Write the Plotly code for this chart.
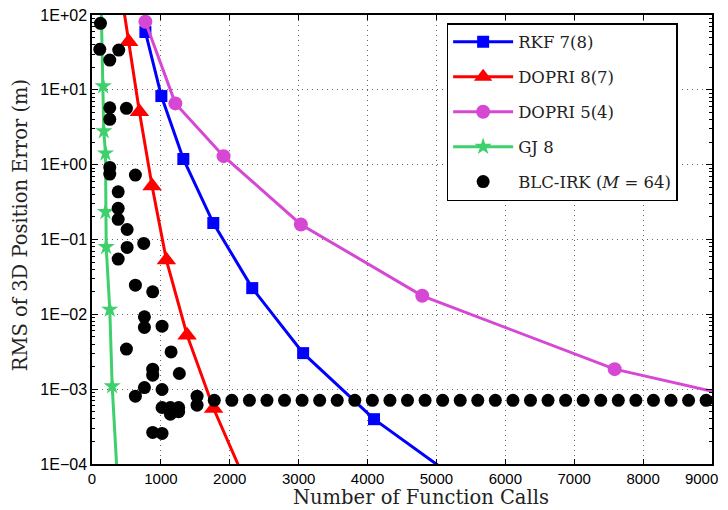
import plotly.graph_objects as go

# ---- data ----
rkf_calls = [775, 1007, 1326, 1761, 2326, 3065, 4094, 5400]
rkf_err = [59.3, 8.26, 1.19, 0.166, 0.0224, 0.00303, 3.97e-4, 5.4e-5]

dp87_calls = [420, 533, 688, 872, 1080, 1380, 1765, 2250]
dp87_err = [210, 44.0, 5.09, 0.518, 0.0531, 0.00527, 5.52e-4, 5.25e-5]

dp54_calls = [775, 1210, 1910, 3032, 4794, 7587, 12000]
dp54_err = [81.3, 6.59, 1.30, 0.159, 0.0177, 0.00185, 2.23e-4]

gj8_calls = [125, 162, 171, 196, 196, 206, 258, 293, 380]
gj8_err = [316, 11.2, 2.81, 1.42, 0.234, 0.0798, 0.0116, 0.0011, 4.1e-5]

blc_calls = [123, 113, 258, 388, 258, 258, 500, 258, 258, 630, 380, 380, 380,
             510, 510, 751, 380, 630, 881, 761, 761, 1017, 500, 1148, 881, 881,
             1268, 761, 630, 1017, 1525, 1525, 1017, 1138, 1258, 1138, 1258,
             881, 1017,
             1775, 2030, 2285, 2540, 2795, 3050, 3305, 3560, 3815, 4070, 4325,
             4580, 4835, 5090, 5345, 5600, 5855, 6110, 6365, 6620, 6875, 7130,
             7385, 7640, 7895, 8150, 8405, 8660, 8915]
blc_err = [77.5, 34.8, 25.0, 34.0, 5.76, 4.03, 5.66, 0.920, 0.749, 0.726, 0.434,
           0.261, 0.186, 0.136, 0.0783, 0.0887, 0.0547, 0.0245, 0.0200, 0.00927,
           0.00668, 0.00695, 0.00343, 0.00315, 0.00185, 0.00154, 0.00162,
           0.00105, 8.06e-4, 9.9e-4, 8.06e-4, 6.11e-4, 5.69e-4, 5.69e-4,
           5.69e-4, 4.63e-4, 5.0e-4, 2.64e-4, 2.56e-4,
           7.1e-4, 7.1e-4, 7.1e-4, 7.1e-4, 7.1e-4, 7.1e-4, 7.1e-4, 7.1e-4,
           7.1e-4, 7.1e-4, 7.1e-4, 7.1e-4, 7.1e-4, 7.1e-4, 7.1e-4, 7.1e-4,
           7.1e-4, 7.1e-4, 7.1e-4, 7.1e-4, 7.1e-4, 7.1e-4, 7.1e-4, 7.1e-4,
           7.1e-4, 7.1e-4, 7.1e-4, 7.1e-4, 7.1e-4]

x_ticks = [0, 1000, 2000, 3000, 4000, 5000, 6000, 7000, 8000, 9000]
# last label padded so it stays inside the visible page
x_ticktext = ["0", "1000", "2000", "3000", "4000", "5000", "6000", "7000",
              "8000", "9000\u00a0\u00a0\u00a0\u00a0\u00a0"]
y_ticks = [1e-4, 1e-3, 1e-2, 1e-1, 1e0, 1e1, 1e2]
y_ticktext = ["1E\u221204", "1E\u221203", "1E\u221202", "1E\u221201",
              "1E+00", "1E+01", "1E+02"]

x_title = "Number of Function Calls"
y_title = "RMS of 3D Position Error (m)"

BLUE = "#0000FF"
RED = "#FF0000"
MAGENTA = "#D648D4"
GREEN = "#3ED06C"

fig = go.Figure()
fig.add_trace(go.Scatter(x=rkf_calls, y=rkf_err, mode="lines+markers", name="RKF 7(8)",
                         legendgroup="a",
                         line=dict(color=BLUE, width=3),
                         marker=dict(symbol="square", size=12, color=BLUE)))
fig.add_trace(go.Scatter(x=dp87_calls, y=dp87_err, mode="lines+markers", name="DOPRI 8(7)",
                         legendgroup="b",
                         line=dict(color=RED, width=3),
                         marker=dict(symbol="triangle-up", size=17, color=RED)))
fig.add_trace(go.Scatter(x=dp54_calls, y=dp54_err, mode="lines+markers", name="DOPRI 5(4)",
                         legendgroup="c",
                         line=dict(color=MAGENTA, width=3),
                         marker=dict(symbol="circle", size=14, color=MAGENTA)))
fig.add_trace(go.Scatter(x=gj8_calls, y=gj8_err, mode="lines+markers", name="GJ 8",
                         legendgroup="d",
                         line=dict(color=GREEN, width=3),
                         marker=dict(symbol="star", size=13, color=GREEN)))
fig.add_trace(go.Scatter(x=blc_calls, y=blc_err, mode="markers",
                         name="BLC-IRK (<i>M</i> = 64)",
                         legendgroup="e",
                         marker=dict(symbol="circle", size=13, color="black")))

minor_vals = [m * 10 ** e for e in range(-4, 2) for m in range(2, 10)]

fig.update_xaxes(range=[0, 9000], tickmode="array", tickvals=x_ticks,
                 ticktext=x_ticktext,
                 automargin=False, ticklabeloverflow="allow",
                 ticks="inside", ticklen=5, tickcolor="black", tickwidth=1,
                 showline=True, linecolor="black", linewidth=1.5, mirror="ticks",
                 showgrid=True, gridcolor="#666", gridwidth=1, griddash="1px,4px",
                 zeroline=False,
                 tickfont=dict(family="Liberation Sans", size=15, color="black"))
fig.update_yaxes(type="log", range=[-4, 2], tickmode="array", tickvals=y_ticks,
                 ticktext=y_ticktext, automargin=False, ticklabeloverflow="allow",
                 ticks="inside", ticklen=6, tickcolor="black", tickwidth=1,
                 minor=dict(tickmode="array", tickvals=minor_vals, ticks="inside",
                            ticklen=3, tickcolor="black", showgrid=False),
                 showline=True, linecolor="black", linewidth=1.5, mirror="ticks",
                 showgrid=True, gridcolor="#666", gridwidth=1, griddash="1px,4px",
                 zeroline=False,
                 tickfont=dict(family="Liberation Sans", size=16, color="black"))

title_font = dict(family="DejaVu Serif", size=19.5, color="#222")
fig.add_annotation(text=x_title, xref="paper", yref="paper", x=0.531, y=-0.0757,
                   xanchor="center", yanchor="middle", showarrow=False, font=title_font)
fig.add_annotation(text=y_title, xref="paper", yref="paper", x=-0.116, y=0.532,
                   xanchor="center", yanchor="middle", showarrow=False,
                   textangle=-90, font=title_font)

# page shows the figure offset by the 8px body margin, so size it to fit
fig.update_layout(
    width=720, height=502,
    margin=dict(l=84, r=15.5, t=7, b=46),
    plot_bgcolor="white", paper_bgcolor="white",
    legend=dict(x=0.572, y=0.982, xanchor="left", yanchor="top",
                bgcolor="white", bordercolor="black", borderwidth=1.5,
                font=dict(family="DejaVu Serif", size=16.5, color="#222"),
                tracegroupgap=10.5, itemwidth=60, traceorder="grouped",
                entrywidth=185),
)

fig.write_html("out.html")
